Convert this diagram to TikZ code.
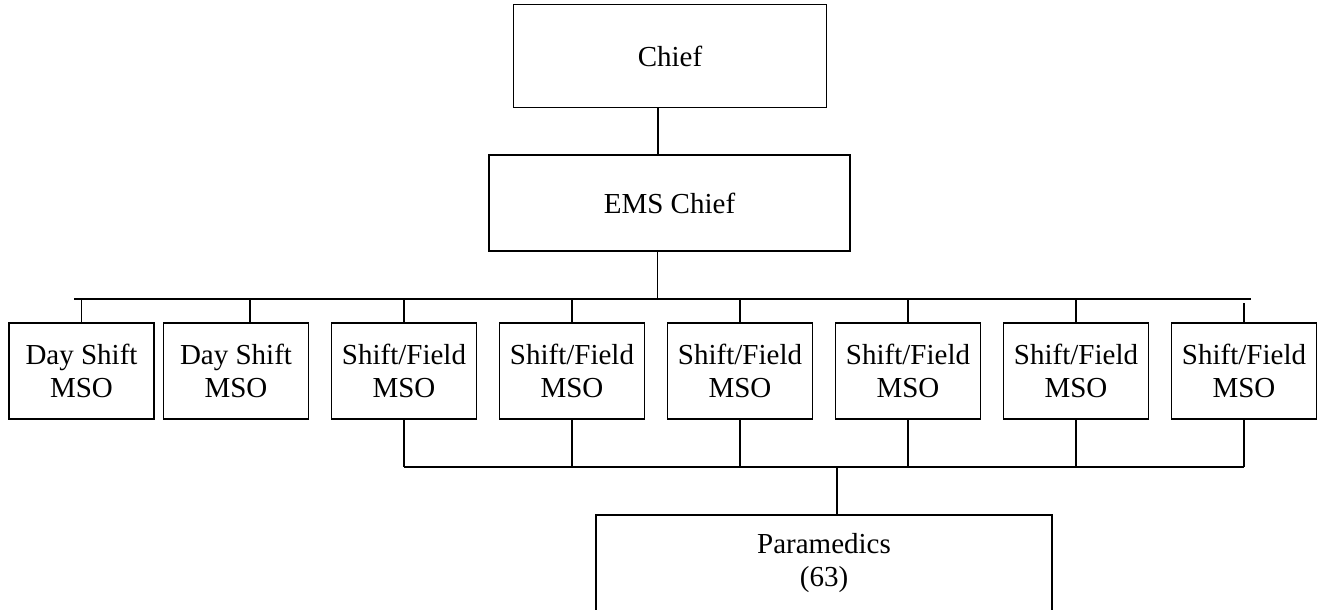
\documentclass[tikz,border=0pt]{standalone}
\usepackage{fontspec}
\setmainfont{Liberation Serif}
\tikzset{
  box/.style={draw,align=center,inner sep=0pt,minimum width=145pt,minimum height=96pt,
    font=\fontsize{29}{33}\selectfont}
}
\begin{document}
\begin{tikzpicture}[x=1pt,y=-1pt,line width=1.6pt]
  \useasboundingbox (0,0) rectangle (1323,610);
  \node[box,minimum width=313pt,minimum height=103pt] (chief) at (670,56) {Chief};
  \node[box,minimum width=361pt] (ems) at (669.5,203) {EMS Chief};
  \node[box] (m1) at (81.5,370.7) {Day Shift\\MSO};
  \node[box] (m2) at (236,370.7) {Day Shift\\MSO};
  \foreach \i/\x in {3/404,4/572,5/740,6/908,7/1076,8/1244}
    \node[box] (m\i) at (\x,370.7) {Shift/Field\\MSO};
  \node[box,minimum width=456pt] (para) at (824,563) {Paramedics\\(63)};
  \coordinate (busL) at (74,299);
  \coordinate (busR) at (1251,299);
  \coordinate (busB) at (0,467);
  \draw ([xshift=-12pt]chief.south) -- ([xshift=-12pt]chief.south |- ems.north);
  \draw ([xshift=-12pt]ems.south) -- ([xshift=-12pt]ems.south |- busL);
  \draw (busL) -- (busR);
  \draw (m1.north) -- (m1.north |- busL);
  \draw ([xshift=14pt]m2.north) -- ([xshift=14pt]m2.north |- busL);
  \foreach \i in {3,...,7}
    \draw (m\i.north) -- (m\i.north |- busL);
  \draw (m8.north) -- ([yshift=-4pt]m8.north |- busL);
  \foreach \i in {3,...,8}
    \draw (m\i.south) -- (m\i.south |- busB);
  \draw (m3.south |- busB) -- (m8.south |- busB);
  \draw ([xshift=13pt]para.north) -- ([xshift=13pt]para.north |- busB);
\end{tikzpicture}
\end{document}
